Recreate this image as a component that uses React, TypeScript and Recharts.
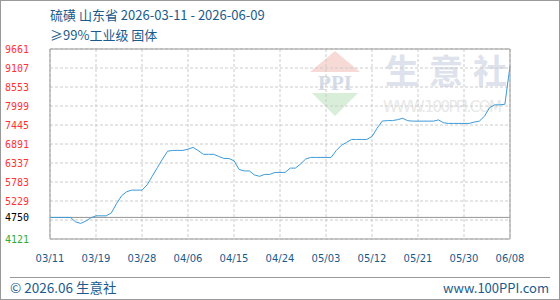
import React from 'react';
import { LineChart, Line, XAxis, YAxis, CartesianGrid, ReferenceLine } from 'recharts';

const titleText = '硫磺 山东省 2026-03-11 - 2026-06-09';
const subtitleText = '≥99%工业级 固体';
const footerLeft = '© 2026.06 生意社';
const footerRight = 'www.100PPI.com';

const xTickIndex = [0, 9, 18, 27, 36, 45, 54, 63, 72, 81, 90];
const xTickLabels = ['03/11', '03/19', '03/28', '04/06', '04/15', '04/24', '05/03', '05/12', '05/21', '05/30', '06/08'];

const prices = [
  4750, 4750, 4750, 4750, 4750, 4620, 4575, 4640, 4740, 4797,
  4797, 4797, 4880, 5150, 5380, 5500, 5546, 5546, 5546, 5700,
  5950, 6200, 6450, 6680, 6704, 6704, 6704, 6740, 6791, 6700,
  6590, 6590, 6590, 6530, 6470, 6470, 6400, 6150, 6106, 6106,
  5990, 5948, 6004, 6004, 6062, 6062, 6062, 6188, 6188, 6304,
  6450, 6500, 6500, 6500, 6500, 6500, 6700, 6850, 6937, 7024,
  7024, 7024, 7024, 7112, 7350, 7560, 7573, 7573, 7600, 7640,
  7570, 7558, 7558, 7558, 7558, 7558, 7593, 7510, 7491, 7491,
  7491, 7491, 7491, 7530, 7558, 7700, 7950, 8033, 8033, 8050,
  9162,
];

const baseValue = 4750;
const yTicks = [4121, 4675, 4750, 5229, 5783, 6337, 6891, 7445, 7999, 8553, 9107, 9661];
const leftTickLabels = ['4121', '', '4750', '5229', '5783', '6337', '6891', '7445', '7999', '8553', '9107', '9661'];
const rightTickLabels = ['-13.23%', '', '0.00%', '10.10%', '21.76%', '33.42%', '45.09%', '56.75%', '68.41%', '80.08%', '91.74%', '103.40%'];

const data = prices.map((p, i) => ({ i, p }));

const RED = '#ff3333';
const GREEN = '#33aa33';
const BLUE_TEXT = '#1a5b8c';
const AXIS = '#999999';

const labelColor = (v: number) => (v > baseValue ? RED : v < baseValue ? GREEN : '#000000');

const makeYTick = (labels: string[], x: number) => (props: any) => {
  const { y, payload } = props;
  const idx = yTicks.indexOf(payload.value);
  const label = idx >= 0 ? labels[idx] : '';
  if (!label) return <g />;
  return (
    <text x={x} y={y + 3.6} textAnchor="start" fontSize={10} fontFamily="DejaVu Sans Mono" fill={labelColor(payload.value)}>
      {label}
    </text>
  );
};

const LeftTick = makeYTick(leftTickLabels, 5);
const RightTick = makeYTick(rightTickLabels, 514);

const XTick = (props: any) => {
  const { x, y, payload } = props;
  const idx = xTickIndex.indexOf(payload.value);
  return (
    <text x={x} y={y + 22.6} textAnchor="middle" fontSize={10} fontFamily="DejaVu Sans" fill={BLUE_TEXT}>
      {idx >= 0 ? xTickLabels[idx] : ''}
    </text>
  );
};

export default function App() {
  return (
    <div style={{ position: 'fixed', left: 0, top: 0, width: 560, height: 300, background: '#ffffff' }}>
      <svg width={560} height={300} style={{ position: 'absolute', left: 0, top: 0 }}>
        <rect x={0.5} y={0.5} width={559} height={299} fill="#ffffff" stroke={AXIS} />
        <text x={50} y={19.7} fontSize={13} fontFamily="Noto Sans CJK SC" fill={BLUE_TEXT}>{titleText}</text>
        <text x={50} y={39.7} fontSize={13} fontFamily="Noto Sans CJK SC" fill={BLUE_TEXT}>{subtitleText}</text>
        {/* watermark */}
        <polygon points="310,72 335,51 360,72" fill="#f7dad5" />
        <text x={335} y={90} textAnchor="middle" fontSize={21} fontWeight="bold" fontFamily="Liberation Serif" fill="#d3dbe8">PPI</text>
        <polygon points="312,93 358,93 335,116" fill="#d8eed8" />
        <text x={385} y={84} fontSize={34} fontWeight="bold" letterSpacing={10} fontFamily="Noto Sans CJK SC" fill="#dde2ec">生意社</text>
        <text x={383} y={112} fontSize={15} textLength={119} lengthAdjust="spacing" fontFamily="DejaVu Sans" fill="#e8e8e8">WWW.100PPI.COM</text>
        {/* footer */}
        <line x1={10} y1={277.5} x2={550} y2={277.5} stroke={AXIS} />
        <text x={10} y={293} fontSize={13.5} fontFamily="Noto Sans CJK SC" fill={BLUE_TEXT}>{footerLeft}</text>
        <text x={549} y={293} textAnchor="end" fontSize={13} fontFamily="Noto Sans CJK SC" fill={BLUE_TEXT}>{footerRight}</text>
      </svg>
      <div style={{ position: 'absolute', left: 0, top: 0 }}>
        <LineChart width={560} height={300} data={data} margin={{ top: 49, right: 0, bottom: 31, left: 0 }}>
          <CartesianGrid stroke="#cccccc" strokeDasharray="3 2" yAxisId="left" />
          <XAxis
            dataKey="i"
            type="number"
            domain={[0, 90]}
            ticks={xTickIndex}
            interval={0}
            tick={<XTick />}
            tickLine={false}
            tickSize={0}
            tickMargin={0}
            height={30}
            axisLine={{ stroke: AXIS }}
          />
          <YAxis
            yAxisId="left"
            orientation="left"
            width={50}
            type="number"
            domain={[4121, 9661]}
            ticks={yTicks}
            interval={0}
            tick={<LeftTick />}
            tickLine={false}
            axisLine={{ stroke: AXIS }}
          />
          <YAxis
            yAxisId="right"
            orientation="right"
            width={50}
            type="number"
            domain={[4121, 9661]}
            ticks={yTicks}
            interval={0}
            tick={<RightTick />}
            tickLine={false}
            axisLine={{ stroke: AXIS }}
          />
          <ReferenceLine yAxisId="left" y={9661} stroke={AXIS} />
          <ReferenceLine yAxisId="left" y={baseValue} stroke={AXIS} />
          <Line
            yAxisId="left"
            type="linear"
            dataKey="p"
            stroke="#3b9ad9"
            strokeWidth={1}
            dot={false}
            isAnimationActive={false}
          />
        </LineChart>
      </div>
    </div>
  );
}
